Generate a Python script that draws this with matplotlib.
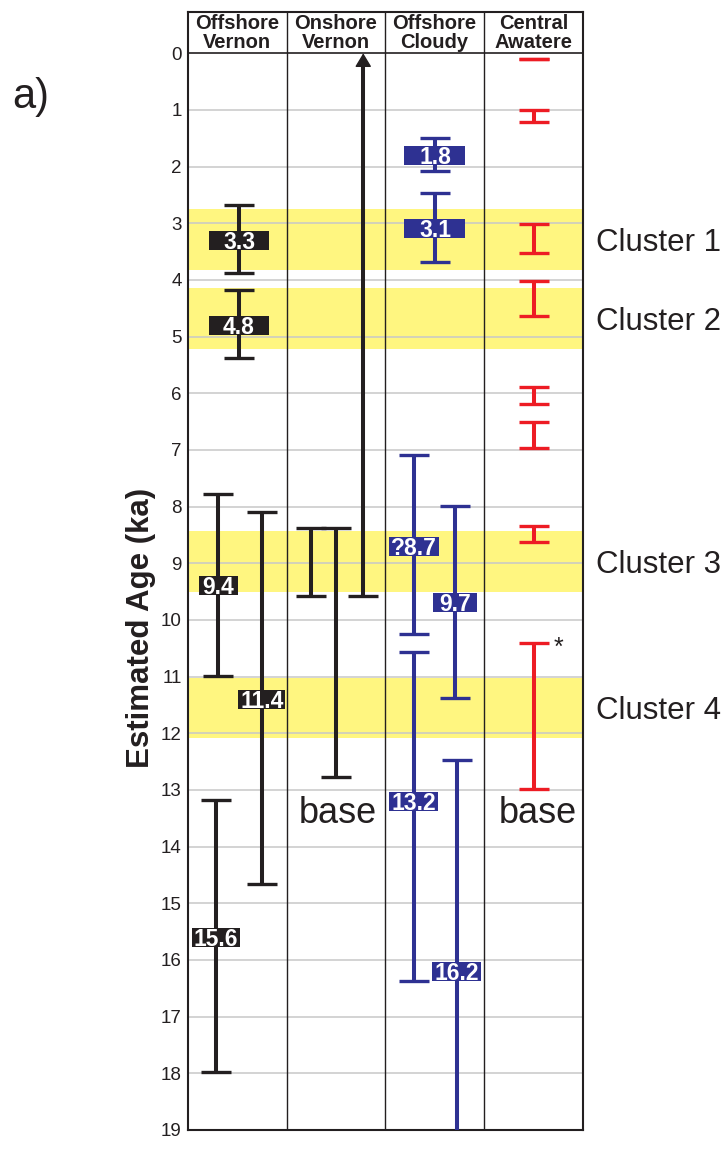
import matplotlib
matplotlib.use('Agg')
import matplotlib.pyplot as plt
import matplotlib.transforms as mtransforms
from matplotlib.patches import Rectangle

plt.rcParams['font.family'] = ['Liberation Sans', 'DejaVu Sans']

# ---------------- data ----------------
columns = ["Offshore\nVernon", "Onshore\nVernon", "Offshore\nCloudy", "Central\nAwatere"]
y_ticks = list(range(0, 20))

clusters = ["Cluster 1", "Cluster 2", "Cluster 3", "Cluster 4"]
cluster_start = [2.75, 4.15, 8.43, 11.02]
cluster_end = [3.82, 5.22, 9.50, 12.09]

# Offshore Vernon
ov_young = [2.68, 4.17, 7.78, 8.09, 13.18]
ov_old = [3.88, 5.37, 10.98, 14.66, 17.97]
ov_best = [3.3, 4.8, 9.4, 11.4, 15.6]
ov_label = ["3.3", "4.8", "9.4", "11.4", "15.6"]

# Onshore Vernon
on_young = [8.38, 8.38, 0.0]
on_old = [9.57, 12.77, 9.57]
on_open_young = [False, False, True]

# Offshore Cloudy
oc_young = [1.49, 2.47, 7.08, 7.99, 10.57, 12.47]
oc_old = [2.08, 3.68, 10.25, 11.37, 16.37, 19.0]
oc_open_old = [False, False, False, False, False, True]
oc_best = [1.8, 3.1, 8.7, 9.7, 13.2, 16.2]
oc_label = ["1.8", "3.1", "?8.7", "9.7", "13.2", "16.2"]

# Central Awatere
ca_young = [0.10, 1.00, 3.01, 4.01, 5.88, 6.50, 8.34, 10.40]
ca_old = [0.10, 1.22, 3.53, 4.63, 6.19, 6.96, 8.62, 12.99]

# ---------------- layout / style ----------------
ov_x = [0.517, 0.517, 0.307, 0.747, 0.284]
on_x = [1.246, 1.497, 1.776]
oc_x = [2.503, 2.503, 2.290, 2.706, 2.290, 2.723]
ca_x = 3.506
ov_box_px = [60, 60, 38.5, 47, 47.5]
oc_box_px = [61, 61, 50, 44, 49, 49.5]
box_h_px = 19

BLACK = '#231f20'
BLUE = '#2e3192'
RED = '#ed1c24'
YELLOW = '#fff680'
GRID = '#c8c8c8'

W, H, DPI = 726, 1155, 100
fig = plt.figure(figsize=(W / DPI, H / DPI), dpi=DPI)
ax_left, ax_right, ax_top, ax_bot = 188, 582.7, 12, 1130
ax = fig.add_axes([ax_left / W, 1 - ax_bot / H, (ax_right - ax_left) / W, (ax_bot - ax_top) / H])
ka_px = (ax_bot - 53.3) / 19.0
y_top = -(53.3 - ax_top) / ka_px
ax.set_xlim(0, 4)
ax.set_ylim(19, y_top)
xppu = (ax_right - ax_left) / 4.0
yppu = ka_px

# bands
for s, e in zip(cluster_start, cluster_end):
    ax.axhspan(s, e, color=YELLOW, lw=0, zorder=0)
# grid
ax.hlines(y_ticks[1:], 0, 4, color=GRID, lw=1.1, zorder=0.5)
# header line & dividers
ax.axhline(0, color=BLACK, lw=1.2, zorder=1)
for c in range(1, 4):
    ax.axvline(c, color=BLACK, lw=1.0, zorder=1)
for sp in ax.spines.values():
    sp.set_linewidth(1.5)
    sp.set_color(BLACK)

# headers
for i, name in enumerate(columns):
    ax.text(i + 0.5, y_top / 2 + 0.01, name, ha='center', va='center', fontsize=14.5,
            fontweight='bold', color=BLACK, linespacing=1.0)

STEM_LW = 2.9
CAP_MS = 21.6
CAP_MEW = 2.4


def draw_range(x, y0, y1, color, cap0=True, cap1=True):
    ax.vlines(x, y0, y1, color=color, lw=STEM_LW, zorder=3)
    caps = []
    if cap0:
        caps.append(y0)
    if cap1:
        caps.append(y1)
    if caps:
        ax.plot([x] * len(caps), caps, ls='none', marker='_', ms=CAP_MS,
                mew=CAP_MEW, color=color, zorder=3, clip_on=False)


def draw_label(x, y, text, color, w_px):
    w = w_px / xppu
    h = box_h_px / yppu
    ax.add_patch(Rectangle((x - w / 2, y - h / 2), w, h, facecolor=color,
                           edgecolor='none', zorder=4))
    tr = mtransforms.offset_copy(ax.transData, fig=fig, y=-0.716 * 16.5 / 2, units='points')
    ax.text(x, y, text, transform=tr, ha='center', va='baseline', fontsize=16.5,
            fontweight='bold', color='white', zorder=5)


# Offshore Vernon
for x, y0, y1, b, lab, wpx in zip(ov_x, ov_young, ov_old, ov_best, ov_label, ov_box_px):
    draw_range(x, y0, y1, BLACK)
    draw_label(x, b, lab, BLACK, wpx)

# Onshore Vernon
for x, y0, y1, op in zip(on_x, on_young, on_old, on_open_young):
    if op:
        ax.vlines(x, y0 + 0.15, y1, color=BLACK, lw=STEM_LW, zorder=3)
        ax.plot([x], [y1], ls='none', marker='_', ms=CAP_MS, mew=CAP_MEW, color=BLACK, zorder=3)
        ax.annotate('', xy=(x, y0), xytext=(x, y0 + 0.35),
                    arrowprops=dict(arrowstyle='-|>,head_length=0.6,head_width=0.36',
                                    mutation_scale=14, lw=1.0, color=BLACK,
                                    shrinkA=0, shrinkB=0),
                    annotation_clip=False, zorder=3)
    else:
        draw_range(x, y0, y1, BLACK)

# Offshore Cloudy
for x, y0, y1, op, b, lab, wpx in zip(oc_x, oc_young, oc_old, oc_open_old, oc_best, oc_label, oc_box_px):
    draw_range(x, y0, y1, BLUE, cap1=not op)
    draw_label(x, b, lab, BLUE, wpx)

# Central Awatere
for y0, y1 in zip(ca_young, ca_old):
    draw_range(ca_x, y0, y1, RED)

# annotations
ax.text(1.523, 13.58, 'base', ha='center', va='baseline', fontsize=26, color=BLACK, zorder=5)
ax.text(3.544, 13.58, 'base', ha='center', va='baseline', fontsize=26, color=BLACK, zorder=5)
ax.text(3.75, 10.62, '*', ha='center', va='baseline', fontsize=18, color=BLACK, zorder=5)

ctr = mtransforms.offset_copy(ax.transData, fig=fig, y=-0.716 * 22.5 / 2, units='points')
for name, s, e in zip(clusters, cluster_start, cluster_end):
    ax.text(4.135, (s + e) / 2, name, transform=ctr, ha='left', va='baseline',
            fontsize=22.5, color=BLACK, clip_on=False)

# axes ticks
ax.set_yticks(y_ticks)
ax.set_yticklabels([str(t) for t in y_ticks])
ax.set_xticks([])
ax.tick_params(axis='y', length=0, pad=4.5, labelsize=13.5, labelcolor=BLACK)

fig.text(141 / W, 1 - 628 / H, 'Estimated Age (ka)', rotation=90, ha='center', va='center',
         fontsize=22.5, fontweight='bold', color=BLACK)
fig.text(12 / W, 1 - 108 / H, 'a)', fontsize=30, ha='left', va='baseline', color=BLACK)

fig.savefig('out.png', dpi=DPI)
